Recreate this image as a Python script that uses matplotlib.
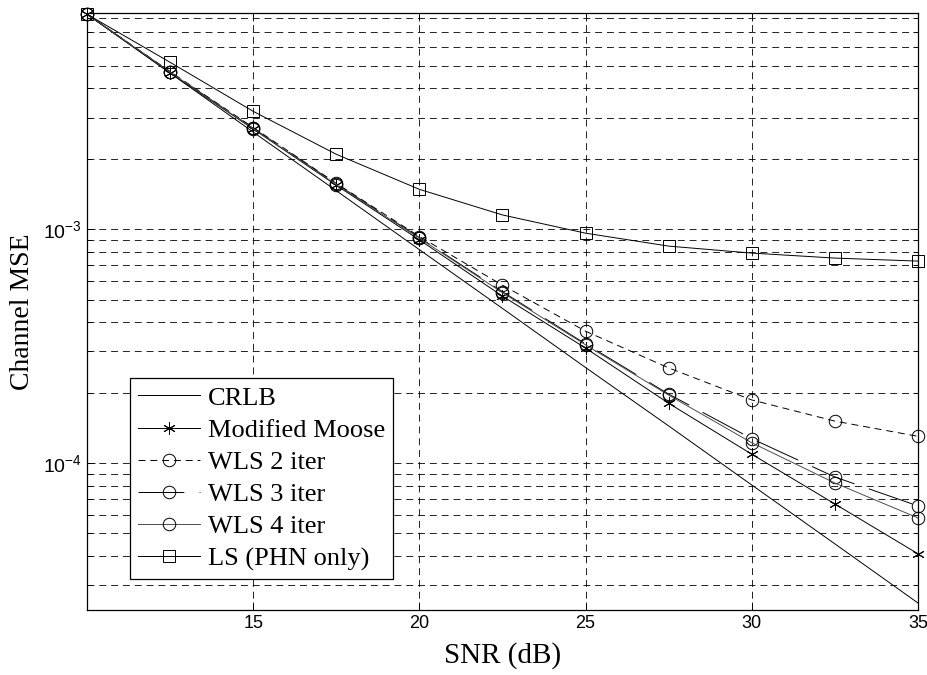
import matplotlib
matplotlib.use('Agg')
import matplotlib.pyplot as plt
from matplotlib.ticker import LogLocator, NullFormatter, FixedLocator

plt.rcParams['font.family'] = ['Liberation Sans', 'DejaVu Sans']
plt.rcParams['lines.scale_dashes'] = False

# data
snr = [10, 12.5, 15, 17.5, 20, 22.5, 25, 27.5, 30, 32.5, 35]
crlb = [8.3e-3, 4.65e-3, 2.60e-3, 1.46e-3, 8.17e-4, 4.58e-4, 2.56e-4, 1.44e-4, 8.05e-5, 4.51e-5, 2.52e-5]
moose = [8.3e-3, 4.65e-3, 2.68e-3, 1.54e-3, 9.0e-4, 5.17e-4, 3.1e-4, 1.80e-4, 1.09e-4, 6.68e-5, 4.09e-5]
wls2 = [8.3e-3, 4.72e-3, 2.72e-3, 1.57e-3, 9.3e-4, 5.76e-4, 3.66e-4, 2.55e-4, 1.86e-4, 1.51e-4, 1.30e-4]
wls3 = [8.3e-3, 4.70e-3, 2.70e-3, 1.56e-3, 9.2e-4, 5.4e-4, 3.23e-4, 1.97e-4, 1.27e-4, 8.71e-5, 6.55e-5]
wls4 = [8.3e-3, 4.69e-3, 2.69e-3, 1.55e-3, 9.15e-4, 5.35e-4, 3.2e-4, 1.95e-4, 1.22e-4, 8.21e-5, 5.82e-5]
ls_phn = [8.3e-3, 5.17e-3, 3.19e-3, 2.09e-3, 1.48e-3, 1.15e-3, 9.61e-4, 8.46e-4, 7.9e-4, 7.52e-4, 7.3e-4]

labels = ['CRLB', 'Modified Moose', 'WLS 2 iter', 'WLS 3 iter', 'WLS 4 iter', 'LS (PHN only)']

fig = plt.figure(figsize=(9.28, 6.75), dpi=100)
ax = fig.add_axes([0.0938, 0.0963, 0.8953, 0.8844])

lw = 0.7
ms = 9
ax.semilogy(snr, crlb, '-', color='k', lw=lw, label=labels[0])
ax.semilogy(snr, moose, '-', color='k', lw=lw, marker=(6, 2, 0), ms=ms, mew=0.7, label=labels[1])
ax.semilogy(snr, wls2, color='k', lw=lw, ls=(0, (5, 3.5)), marker='o', ms=ms, mfc='none', mew=0.7, label=labels[2])
ax.semilogy(snr, wls3, color='k', lw=lw, ls=(0, (33, 11)), marker='o', ms=ms, mfc='none', mew=0.7, label=labels[3])
ax.semilogy(snr, wls4, '-', color='0.3', lw=lw, marker='o', ms=ms, mfc='none', mec='k', mew=0.7, label=labels[4])
ax.semilogy(snr, ls_phn, '-', color='k', lw=lw, marker='s', ms=ms, mfc='none', mew=0.7, label=labels[5])
for ln in ax.get_lines():
    ln.set_clip_on(False)

ax.set_xlim(10, 35)
ax.set_ylim(2.35e-5, 8.4e-3)
ax.xaxis.set_major_locator(FixedLocator([15, 20, 25, 30, 35]))
ax.yaxis.set_major_locator(LogLocator(base=10))
ax.yaxis.set_minor_locator(LogLocator(base=10, subs=range(2, 10)))
ax.yaxis.set_minor_formatter(NullFormatter())

gs = dict(color='k', lw=0.6, ls=(0, (5, 3.5)))
ax.grid(True, which='major', axis='both', **gs)
ax.grid(True, which='minor', axis='y', **gs)
ax.set_axisbelow(True)

ax.tick_params(which='both', direction='in', top=True, right=True, labelsize=13, width=0.6)
ax.tick_params(axis='y', labelsize=14)
ax.tick_params(which='major', length=6)
ax.tick_params(which='minor', length=3.5)
for s in ax.spines.values():
    s.set_linewidth(0.9)

ax.set_xlabel('SNR (dB)', family='Liberation Serif', fontsize=21, labelpad=7)
ax.set_ylabel('Channel MSE', family='Liberation Serif', fontsize=20, labelpad=6)

leg = ax.legend(loc='lower left', bbox_to_anchor=(0.052, 0.052), prop={'family': 'Liberation Serif', 'size': 19},
                fancybox=False, edgecolor='k', framealpha=1, borderaxespad=0, borderpad=0.3,
                labelspacing=0.33, handlelength=2.35, handletextpad=0.3)
leg.get_frame().set_linewidth(0.9)

plt.savefig('out.png', dpi=100)
